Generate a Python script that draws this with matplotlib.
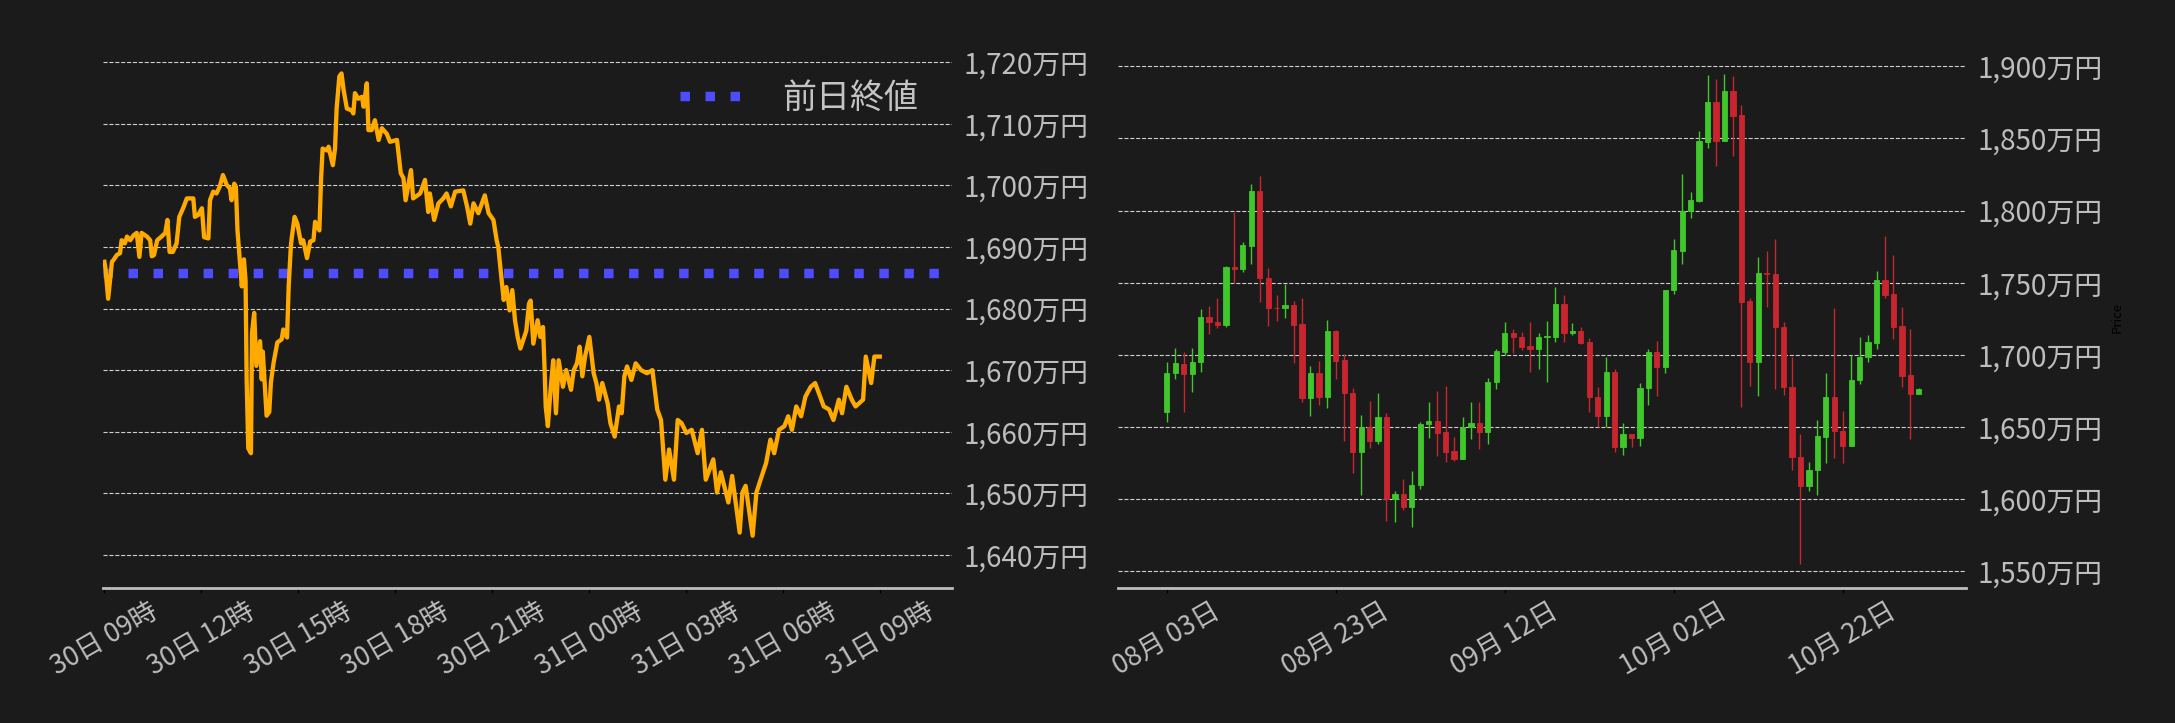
import pandas as pd
import matplotlib
matplotlib.use("Agg")
import matplotlib.pyplot as plt
import matplotlib.dates as mdates
from matplotlib.ticker import FuncFormatter, MultipleLocator

plt.rcParams['font.family'] = ['Noto Sans CJK JP', 'DejaVu Sans']

# ---- left chart: intraday price (万円), minutes after 30日 09:00 ----
day_start = "2025-10-30 09:00"
minutes = [0, 2, 7, 14, 17, 23, 29, 32, 38, 42, 48, 54, 60, 65, 69, 79, 85, 88, 92, 98,
           106, 113, 117, 121, 127, 134, 139, 147, 153, 165, 168, 174, 181, 185, 193, 196,
           202, 208, 214, 220, 227, 233, 236, 241, 244, 247, 255, 259, 262, 264, 267, 272,
           274, 278, 282, 289, 292, 294, 301, 306, 309, 314, 321, 329, 332, 339, 342, 346,
           348, 353, 358, 365, 369, 376, 382, 388, 391, 399, 402, 405, 413, 416, 424, 428,
           431, 436, 440, 444, 450, 459, 462, 465, 471, 478, 481, 487, 490, 496, 502, 509,
           515, 524, 530, 543, 550, 555, 559, 569, 573, 586, 595, 601, 604, 612, 620, 629,
           635, 643, 651, 666, 673, 679, 685, 694, 706, 713, 722, 728, 731, 736, 741, 746,
           752, 757, 762, 767, 772, 783, 788, 791, 796, 804, 809, 814, 817, 819, 823, 828,
           833, 838, 843, 851, 857, 866, 871, 877, 882, 887, 892, 900, 908, 913, 918, 924,
           934, 939, 947, 955, 960, 965, 970, 978, 986, 996, 1007, 1017, 1026, 1033, 1041,
           1048, 1057, 1064, 1071, 1080, 1090, 1101, 1109, 1116, 1130, 1137, 1144, 1158,
           1165, 1179, 1184, 1190, 1203, 1210, 1220, 1228, 1236, 1243, 1252, 1262, 1269,
           1276, 1284, 1293, 1301, 1311, 1319, 1335, 1345, 1353, 1363, 1369, 1377, 1387,
           1394, 1408, 1413, 1423, 1429, 1439]
price = [1687.6, 1686.5, 1681.6, 1687.6, 1687.9, 1688.7, 1689.0, 1691.1, 1690.6, 1691.7,
         1691.1, 1691.9, 1692.3, 1688.4, 1692.3, 1691.7, 1691.1, 1688.5, 1688.7, 1691.1,
         1691.7, 1692.3, 1694.4, 1689.2, 1689.2, 1690.6, 1694.9, 1696.5, 1697.9, 1697.9,
         1694.9, 1695.2, 1696.3, 1691.6, 1691.4, 1697.6, 1699.0, 1698.7, 1699.8, 1701.7,
         1700.1, 1699.5, 1697.6, 1700.3, 1699.8, 1692.7, 1683.6, 1688.0, 1684.5, 1668.5,
         1657.3, 1656.5, 1676.1, 1679.3, 1670.7, 1674.7, 1668.5, 1673.0, 1662.6, 1663.2,
         1668.0, 1671.2, 1674.5, 1675.0, 1676.6, 1675.3, 1683.6, 1690.1, 1691.7, 1694.9,
         1693.8, 1690.6, 1691.1, 1688.2, 1690.9, 1691.1, 1694.1, 1692.7, 1700.8, 1706.0,
         1705.7, 1706.3, 1703.3, 1706.0, 1712.5, 1717.7, 1718.2, 1715.5, 1712.5, 1712.2,
         1711.7, 1715.0, 1714.1, 1714.4, 1712.8, 1716.6, 1709.0, 1709.0, 1710.6, 1707.4,
         1709.3, 1708.4, 1707.1, 1707.4, 1702.0, 1701.2, 1697.6, 1702.5, 1697.9, 1698.7,
         1700.9, 1695.7, 1698.7, 1694.4, 1697.1, 1697.9, 1698.7, 1696.6, 1699.0, 1699.2,
         1696.6, 1693.8, 1697.1, 1695.5, 1698.4, 1695.5, 1694.4, 1691.1, 1690.0, 1685.7,
         1681.4, 1683.5, 1679.7, 1683.0, 1678.1, 1675.4, 1673.5, 1676.4, 1680.8, 1681.3,
         1674.3, 1678.1, 1675.4, 1677.0, 1670.0, 1664.1, 1660.9, 1666.8, 1671.6, 1663.0,
         1671.6, 1667.3, 1670.0, 1666.8, 1670.0, 1671.1, 1673.8, 1669.0, 1672.2, 1675.4,
         1669.5, 1667.9, 1665.2, 1667.9, 1664.6, 1661.4, 1659.2, 1664.1, 1663.0, 1669.0,
         1670.6, 1668.4, 1671.1, 1670.0, 1669.5, 1670.0, 1663.6, 1661.9, 1652.2, 1657.1,
         1652.2, 1661.9, 1661.4, 1659.8, 1660.3, 1656.5, 1660.3, 1652.2, 1655.5, 1650.1,
         1653.4, 1648.5, 1652.8, 1643.6, 1650.1, 1651.2, 1643.1, 1650.1, 1652.8, 1654.9,
         1658.7, 1656.5, 1660.3, 1660.9, 1662.5, 1660.3, 1664.1, 1662.5, 1665.7, 1667.3,
         1667.9, 1664.1, 1663.6, 1661.9, 1665.2, 1663.0, 1667.3, 1665.2, 1664.1, 1665.2,
         1672.2, 1667.9, 1672.2, 1672.2]
prev_close = 1685.8
legend_label = "前日終値"

# ---- right chart: daily candles (万円) from 2025-08-03 ----
first_day = "2025-08-03"
opens = [1660.6, 1687.1, 1693.6, 1686.4, 1694.8, 1726.2, 1722.8, 1721.0, 1760.9, 1759.2,
         1775.7, 1813.6, 1753.5, 1732.7, 1732.2, 1734.7, 1721.5, 1669.8, 1687.6, 1671.0,
         1716.6, 1696.5, 1673.8, 1632.9, 1650.0, 1639.9, 1656.9, 1600.0, 1603.5, 1594.3,
         1609.4, 1652.2, 1654.2, 1646.5, 1633.4, 1627.5, 1650.0, 1653.0, 1646.3, 1681.2,
         1702.2, 1715.3, 1712.4, 1706.2, 1703.7, 1712.1, 1712.6, 1735.4, 1714.9, 1716.6,
         1708.9, 1670.8, 1657.9, 1688.1, 1636.4, 1645.3, 1642.1, 1676.7, 1702.0, 1691.3,
         1744.6, 1772.3, 1799.5, 1806.7, 1847.8, 1875.0, 1848.3, 1882.9, 1866.3, 1737.4,
         1694.8, 1756.9, 1756.2, 1719.6, 1677.7, 1629.2, 1608.7, 1619.8, 1643.3, 1670.8,
         1647.0, 1637.1, 1682.4, 1698.5, 1708.4, 1752.0, 1742.1, 1720.0, 1686.1, 1672.5]
highs = [1694.8, 1705.0, 1701.7, 1705.0, 1731.7, 1733.7, 1739.4, 1761.6, 1798.8, 1778.0,
         1818.3, 1823.8, 1760.1, 1741.3, 1749.0, 1737.4, 1739.6, 1692.3, 1695.8, 1724.0,
         1717.3, 1700.5, 1677.0, 1658.4, 1667.8, 1673.3, 1659.7, 1605.4, 1613.9, 1619.3,
         1653.5, 1667.1, 1674.8, 1678.5, 1643.1, 1656.9, 1667.1, 1667.1, 1684.2, 1704.0,
         1722.5, 1718.1, 1715.6, 1722.5, 1714.9, 1723.3, 1747.0, 1741.3, 1722.0, 1719.1,
         1711.6, 1677.7, 1698.5, 1690.1, 1653.0, 1645.3, 1680.2, 1704.0, 1709.4, 1745.0,
         1780.2, 1825.5, 1812.6, 1855.2, 1893.8, 1891.1, 1894.6, 1893.1, 1873.0, 1739.4,
         1767.6, 1772.0, 1780.4, 1722.5, 1698.3, 1645.3, 1625.7, 1654.7, 1687.4, 1732.4,
         1660.9, 1700.0, 1712.1, 1713.6, 1757.9, 1782.4, 1769.1, 1733.2, 1717.8, 1676.7]
lows = [1653.5, 1683.2, 1660.1, 1674.5, 1688.1, 1714.1, 1718.6, 1719.6, 1750.0, 1757.4,
        1762.9, 1736.9, 1720.3, 1723.3, 1725.3, 1694.1, 1667.1, 1657.4, 1664.9, 1662.9,
        1683.2, 1640.1, 1617.8, 1602.5, 1635.4, 1637.9, 1585.1, 1584.4, 1592.1, 1580.7,
        1606.9, 1642.1, 1629.7, 1625.7, 1626.2, 1627.5, 1641.8, 1634.7, 1638.1, 1676.2,
        1699.8, 1701.0, 1703.2, 1688.4, 1690.1, 1681.4, 1709.2, 1709.2, 1713.4, 1707.4,
        1660.4, 1650.2, 1650.2, 1632.4, 1630.4, 1635.9, 1637.1, 1665.1, 1671.3, 1687.4,
        1742.1, 1763.1, 1794.8, 1805.7, 1843.3, 1830.7, 1848.3, 1837.6, 1663.9, 1678.2,
        1671.3, 1733.2, 1676.2, 1671.8, 1619.8, 1554.9, 1605.9, 1602.5, 1624.8, 1628.5,
        1625.0, 1637.1, 1679.7, 1695.0, 1704.0, 1739.6, 1710.9, 1677.7, 1641.6, 1672.5]
closes = [1687.6, 1694.3, 1686.4, 1695.0, 1726.2, 1722.5, 1721.0, 1760.9, 1759.2, 1776.2,
          1813.6, 1753.0, 1732.2, 1732.2, 1734.7, 1721.0, 1669.8, 1687.6, 1671.0, 1716.6,
          1696.0, 1673.3, 1632.9, 1649.8, 1639.9, 1656.9, 1600.0, 1603.5, 1594.3, 1609.9,
          1652.2, 1654.2, 1645.5, 1632.9, 1627.5, 1650.0, 1653.0, 1646.3, 1681.2, 1702.7,
          1715.3, 1712.1, 1705.7, 1703.7, 1712.4, 1713.1, 1735.4, 1714.9, 1716.6, 1708.4,
          1670.5, 1657.9, 1688.1, 1636.4, 1645.3, 1642.1, 1677.2, 1702.0, 1691.3, 1745.0,
          1772.8, 1799.5, 1807.4, 1848.3, 1875.0, 1848.3, 1882.9, 1865.8, 1736.9, 1694.8,
          1756.9, 1755.7, 1719.6, 1677.7, 1628.9, 1608.7, 1620.0, 1643.8, 1670.8, 1647.5,
          1637.1, 1682.4, 1698.8, 1708.9, 1752.0, 1741.8, 1719.6, 1685.6, 1672.5, 1676.2]

BG = '#1b1b1b'
TXT = '#bdbdbd'
GRID = '#cfcfcf'
UP = '#3fc72b'
DOWN = '#c9252f'

yen = FuncFormatter(lambda v, p: f"{v:,.0f}万円")

fig = plt.figure(figsize=(21.75, 7.23), dpi=100, facecolor=BG)
ax1 = fig.add_axes([0.0474, 0.1867, 0.3902, 0.7483], facecolor=BG)
ax2 = fig.add_axes([0.5142, 0.1867, 0.3896, 0.7483], facecolor=BG)

for ax in (ax1, ax2):
    for s in ('top', 'left', 'right'):
        ax.spines[s].set_visible(False)
    ax.spines['bottom'].set_color('#bdbdbd')
    ax.spines['bottom'].set_linewidth(2.0)
    ax.yaxis.tick_right()
    ax.yaxis.set_major_formatter(yen)
    ax.grid(axis='y', linestyle='--', color=GRID, linewidth=0.8)
    ax.set_axisbelow(True)
    ax.tick_params(axis='y', length=4, pad=4.5, color=BG, labelcolor=TXT, labelsize=20)
    ax.tick_params(axis='x', length=3.5, width=1, color='#000000', labelcolor=TXT,
                   labelsize=19.2, labelrotation=30)

# left: line + previous close
t0 = pd.Timestamp(day_start)
times = t0 + pd.to_timedelta(minutes, unit='min')
ax1.plot(times, price, color='#ffaa00', linewidth=3.1, zorder=3)
ax1.axhline(prev_close, color='#4d4dff', linestyle=':', linewidth=6.8, label=legend_label, zorder=2)
ax1.set_xlim(t0 - pd.Timedelta(minutes=2.4), t0 + pd.Timedelta(hours=26.21))
ax1.set_ylim(1634.6, 1722.5)
ax1.yaxis.set_major_locator(MultipleLocator(10))
ax1.set_xticks(pd.date_range(t0, periods=9, freq='3h'))
ax1.xaxis.set_major_formatter(mdates.DateFormatter('%d日 %H時'))
ax1.legend(loc='upper right', frameon=False, fontsize=24.5, labelcolor='#c4c4c4',
           handletextpad=1.0, borderaxespad=0.6)

# right: candlesticks
days = pd.date_range(first_day, periods=len(opens), freq='D')
cols = [UP if c >= o else DOWN for o, c in zip(opens, closes)]
bottoms = [min(o, c) for o, c in zip(opens, closes)]
heights = [abs(c - o) for o, c in zip(opens, closes)]
ax2.vlines(days, lows, highs, colors=cols, linewidth=1.0, zorder=2)
ax2.bar(days, heights, bottom=bottoms, width=0.62, color=cols, edgecolor=cols,
        linewidth=0.6, zorder=3)
ax2.set_xlim(days[0] - pd.Timedelta(days=5.73), days[0] + pd.Timedelta(days=94.56))
ax2.set_ylim(1538.3, 1913.4)
ax2.yaxis.set_major_locator(MultipleLocator(50))
ax2.set_xticks(pd.date_range(first_day, periods=5, freq='20D'))
ax2.xaxis.set_major_formatter(mdates.DateFormatter('%m月 %d日'))
ax2.yaxis.set_label_position('right')
ax2.set_ylabel('Price', fontsize=9.5, color='#000000', labelpad=6)

fig.savefig('out.png', dpi=100, facecolor=BG)
